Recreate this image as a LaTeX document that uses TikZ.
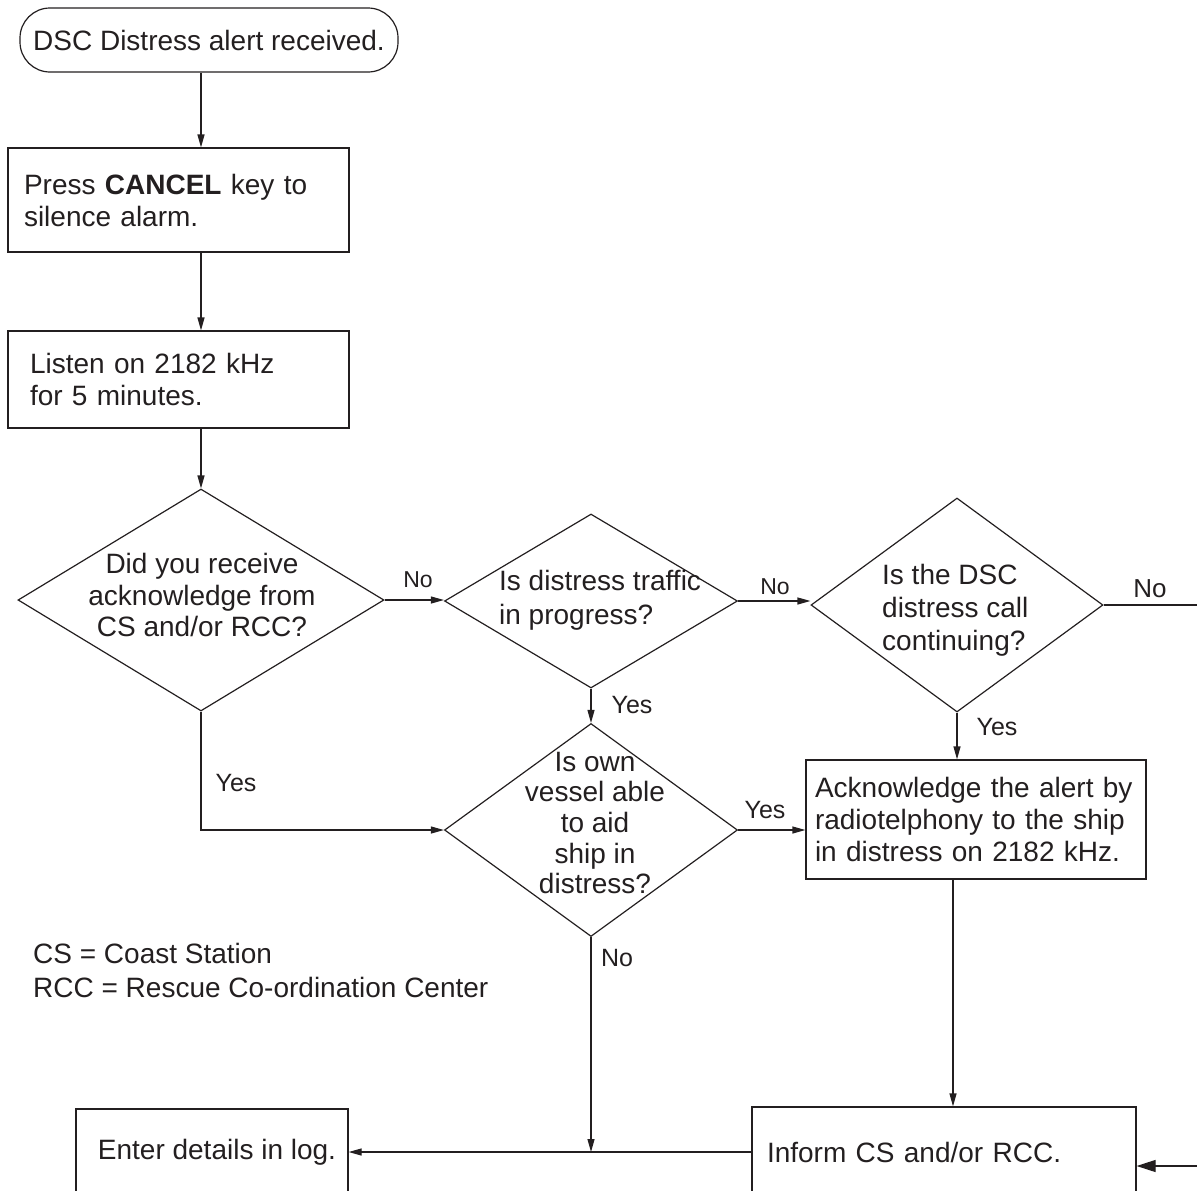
\documentclass[tikz,border=0pt]{standalone}
\usepackage{fontspec}
\setmainfont{Liberation Sans}
\usetikzlibrary{shapes.geometric,arrows.meta,calc}
\definecolor{ink}{HTML}{231F20}
\begin{document}
\begin{tikzpicture}[x=1pt,y=-1pt,
  txt/.style={font=\fontsize{28}{32}\selectfont, text=ink},
  box/.style={draw=ink, line width=1.2pt, rectangle, inner ysep=0pt, txt},
  dia/.style={draw=ink, line width=1.2pt, diamond, inner sep=0pt},
  ln/.style={draw=ink, line width=1.2pt},
  arr/.style={ln, -{Triangle[length=13pt,width=7pt]}},
  bigarr/.style={ln, -{Triangle[length=19pt,width=12pt]}},
  lbl/.style={text=ink, inner sep=0pt},
  dtxt/.style={text=ink, inner sep=0pt}
]
\useasboundingbox (0,0) rectangle (1197,1191);
\clip (0,0) rectangle (1197,1191);

% boxes
\node[box, rounded corners=30pt, minimum width=378pt, minimum height=64pt, inner xsep=0pt] (start) at (209,40) {DSC Distress alert received.};
\node[box, minimum width=341pt, minimum height=104pt, inner xsep=16pt, text width=309pt, align=left] (press) at (178.5,200) {Press \textbf{CANCEL} key to\\silence alarm.};
\node[box, minimum width=341pt, minimum height=97pt, inner xsep=22pt, text width=297pt, align=left] (listen) at (178.5,379.5) {Listen on 2182 kHz\\for 5 minutes.};
\node[box, minimum width=340pt, minimum height=119pt, inner xsep=9pt, text width=322pt, align=left] (ack) at (976,819.5) {Acknowledge the alert by\\radiotelphony to the ship\\in distress on 2182 kHz.};
\node[box, minimum width=384pt, minimum height=90pt, inner xsep=15pt, text width=354pt, align=left] (inform) at (944,1152) {Inform CS and/or RCC.};
\node[box, minimum width=272pt, minimum height=86pt, inner xsep=0pt] (enter) at (212,1152) {\hspace*{10pt}Enter details in log.};

% diamonds
\node[dia, minimum width=366pt, minimum height=222pt] (d1) at (201,600) {};
\node[dtxt, align=center, font=\fontsize{28}{31.5}\selectfont] (t1) at (202,595) {Did you receive\\acknowledge from\\CS and/or RCC?};
\node[dia, minimum width=293pt, minimum height=174pt] (d2) at (591,601) {};
\node[dtxt, anchor=west, align=left, font=\fontsize{28}{34}\selectfont] (t2) at (499,600) {Is distress traffic\\in progress?};
\node[dia, minimum width=292pt, minimum height=214pt] (d3) at (957,605) {};
\node[dtxt, anchor=west, align=left, font=\fontsize{28}{33}\selectfont] (t3) at (882,610) {Is the DSC\\distress call\\continuing?};
\node[dia, minimum width=293pt, minimum height=213pt] (d4) at (591,830) {};
\node[dtxt, align=center, font=\fontsize{28}{30.7}\selectfont] (t4) at (595,823) {Is own\\vessel able\\to aid\\ship in\\distress?};

% free ends
\coordinate (rout) at (1200,605);
\coordinate (rin) at (1200,1166);
\coordinate (c953) at (953,0);

% connectors
\draw[arr] (start.south -| d1.north) -- (press.north -| d1.north);
\draw[arr] (press.south -| d1.north) -- (listen.north -| d1.north);
\draw[arr] (listen.south -| d1.north) -- (d1.north);
\draw[arr] (d1.east) -- (d1.east -| d2.west);
\draw[arr] (d2.east) -- (d2.east -| d3.west);
\draw[ln] (d3.east) -- (rout);
\draw[arr] (d2.south) -- (d4.north);
\draw[arr] (d3.south) -- (ack.north -| d3.south);
\draw[arr] (d1.south) |- (d4.west);
\draw[arr] (d4.east) -- (d4.east -| ack.west);
\draw[arr] (ack.south -| c953) -- (inform.north -| c953);
\draw[arr] (d4.south) -- (d4.south |- inform.west);
\draw[arr] (inform.west) -- (enter.east);
\draw[bigarr] (rin) -- (rin -| inform.east);

% labels
\node[lbl, font=\fontsize{23}{23}\selectfont] (no1) at (418,580) {No};
\node[lbl, font=\fontsize{23}{23}\selectfont] (no2) at (775,587) {No};
\node[lbl, font=\fontsize{26}{26}\selectfont] (no3) at (1150,589) {No};
\node[lbl, font=\fontsize{25}{25}\selectfont] (yes1) at (632,705) {Yes};
\node[lbl, font=\fontsize{25}{25}\selectfont] (yes2) at (997,727) {Yes};
\node[lbl, font=\fontsize{25}{25}\selectfont] (yes3) at (236,783) {Yes};
\node[lbl, font=\fontsize{25}{25}\selectfont] (yes4) at (765,810) {Yes};
\node[lbl, font=\fontsize{25}{25}\selectfont] (no4) at (617,958) {No};

% legend
\node[lbl, anchor=west, align=left, font=\fontsize{28}{34}\selectfont] (legend) at (33,970) {CS = Coast Station\\RCC = Rescue Co-ordination Center};
\end{tikzpicture}
\end{document}
